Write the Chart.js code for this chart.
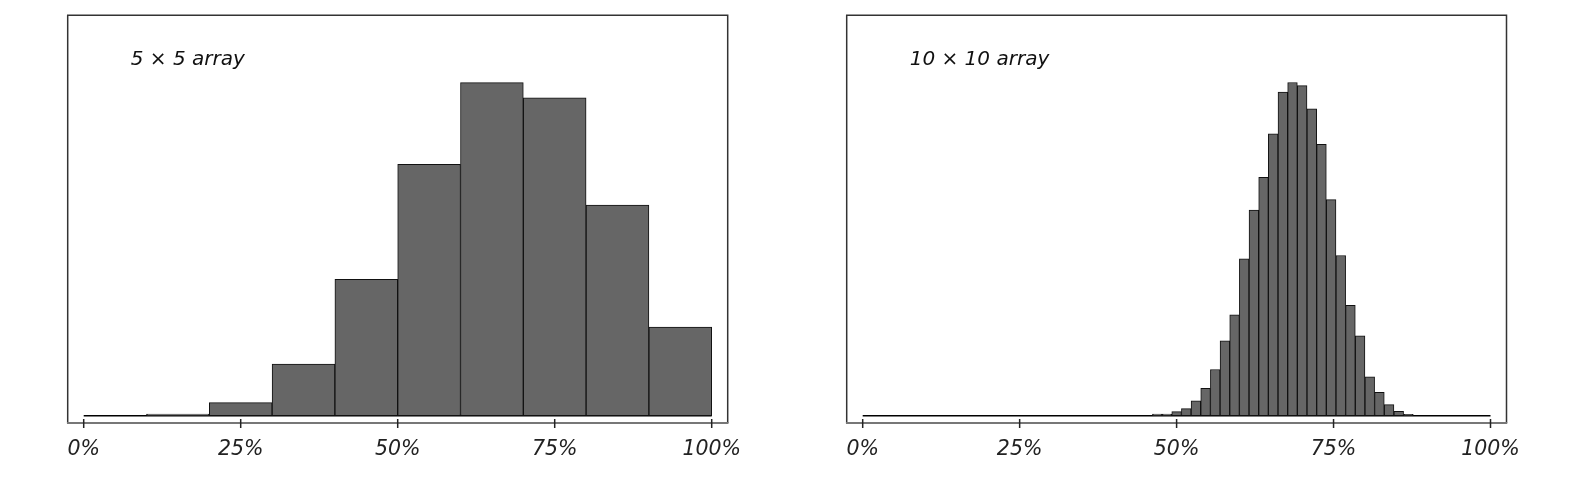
<!DOCTYPE html>
<html><head><meta charset="utf-8">
<script src="https://cdn.jsdelivr.net/npm/chart.js@4"></script>
<style>
html,body{margin:0;padding:0;background:#fff;width:1588px;height:482px;overflow:hidden}
.p{position:absolute;top:0;width:794px;height:482px}
canvas{display:block}
</style></head><body>
<div class="p" style="left:0"><canvas id="c1" width="794" height="482"></canvas></div>
<div class="p" style="left:794px"><canvas id="c2" width="794" height="482"></canvas></div>
<script>
// ---- data ----
const panelTitles = ['5 \u00d7 5 array', '10 \u00d7 10 array'];
const tickValues = [0, 25, 50, 75, 100];
const tickSuffix = '%';

// left panel: bins of 10 %, share of runs (%)
const leftBinStarts = [0, 10, 20, 30, 40, 50, 60, 70, 80, 90];
const leftBinWidth = 10;
const leftValues = [0, 0.11, 0.93, 3.68, 9.71, 17.90, 23.72, 22.65, 15.00, 6.31];

// right panel: bins of width 100/65 %, indexed; share of runs (%)
const rightBinIndex = [30, 31, 32, 33, 34, 35, 36, 37, 38, 39, 40, 41, 42, 43, 44, 45, 46, 47, 48, 49, 50, 51, 52, 53, 54, 55, 56];
const rightBinWidth = 100 / 65;
const rightValues = [0.05, 0.05, 0.12, 0.21, 0.44, 0.81, 1.37, 2.22, 2.99, 4.65, 6.10, 7.07, 8.36, 9.60, 9.88, 9.79, 9.10, 8.05, 6.41, 4.75, 3.27, 2.37, 1.15, 0.69, 0.33, 0.13, 0.04];

// ---- drawing ----
const framePlugin = {
  id: 'frame',
  afterDatasetsDraw(chart, args, opts) {
    const { ctx, chartArea: a, scales: { x } } = chart;
    ctx.save();
    ctx.strokeStyle = '#333'; ctx.lineWidth = 1.5;
    ctx.beginPath();
    ctx.moveTo(a.left, a.bottom); ctx.lineTo(a.left, a.top);
    ctx.lineTo(a.right, a.top); ctx.lineTo(a.right, a.bottom);
    ctx.stroke();
    ctx.strokeStyle = '#777'; ctx.lineWidth = 2;
    ctx.beginPath(); ctx.moveTo(a.left - 0.75, a.bottom); ctx.lineTo(a.right + 0.75, a.bottom); ctx.stroke();
    ctx.strokeStyle = '#222'; ctx.lineWidth = 1.5;
    tickValues.forEach(v => {
      const px = x.getPixelForValue(v);
      ctx.beginPath(); ctx.moveTo(px, a.bottom - 4); ctx.lineTo(px, a.bottom + 5); ctx.stroke();
    });
    ctx.font = 'italic 20px "DejaVu Sans"';
    ctx.fillStyle = '#111'; ctx.textBaseline = 'alphabetic'; ctx.textAlign = 'left';
    ctx.fillText(opts.text, a.left + 63, a.top + 49.5);
    ctx.restore();
  }
};

function makeChart(id, centers, values, yMin, yMax, pad, title) {
  return new Chart(document.getElementById(id), {
    type: 'bar',
    data: {
      datasets: [
        {
          type: 'bar',
          data: centers.map((c, i) => ({ x: c, y: values[i] })),
          backgroundColor: '#666666',
          borderColor: '#111111',
          borderWidth: 1,
          borderSkipped: false,
          barPercentage: 1,
          categoryPercentage: 1,
          order: 0
        },
        {
          type: 'line',
          data: [{ x: tickValues[0], y: 0 }, { x: tickValues[tickValues.length - 1], y: 0 }],
          borderColor: '#000',
          borderWidth: 1.6,
          pointRadius: 0,
          order: 1
        }
      ]
    },
    options: {
      responsive: false,
      animation: false,
      events: [],
      devicePixelRatio: 1,
      layout: { padding: pad },
      plugins: { legend: { display: false }, tooltip: { enabled: false }, frame: { text: title } },
      scales: {
        x: {
          type: 'linear',
          offset: false,
          bounds: 'data',
          min: -2.548, max: 102.548,
          grid: { display: false, drawTicks: false, offset: false },
          border: { display: false },
          afterBuildTicks: s => { s.ticks = tickValues.map(v => ({ value: v })); },
          afterFit: s => { s.height = 59; s.paddingLeft = 0; s.paddingRight = 0; },
          ticks: {
            font: { family: 'DejaVu Sans', size: 20.5, style: 'italic' },
            color: '#222',
            padding: 14.7,
            maxRotation: 0,
            autoSkip: false,
            callback: v => v + tickSuffix
          }
        },
        y: { display: false, min: yMin, max: yMax }
      }
    },
    plugins: [framePlugin]
  });
}

makeChart('c1', leftBinStarts.map(s => s + leftBinWidth / 2), leftValues,
  -0.52, 28.52, { left: 67.7, right: 66.3, top: 15.3, bottom: 0 }, panelTitles[0]);
makeChart('c2', rightBinIndex.map(k => (k + 0.5) * rightBinWidth), rightValues,
  -0.2165, 11.874, { left: 52.7, right: 81.5, top: 15.3, bottom: 0 }, panelTitles[1]);
</script>
</body></html>
